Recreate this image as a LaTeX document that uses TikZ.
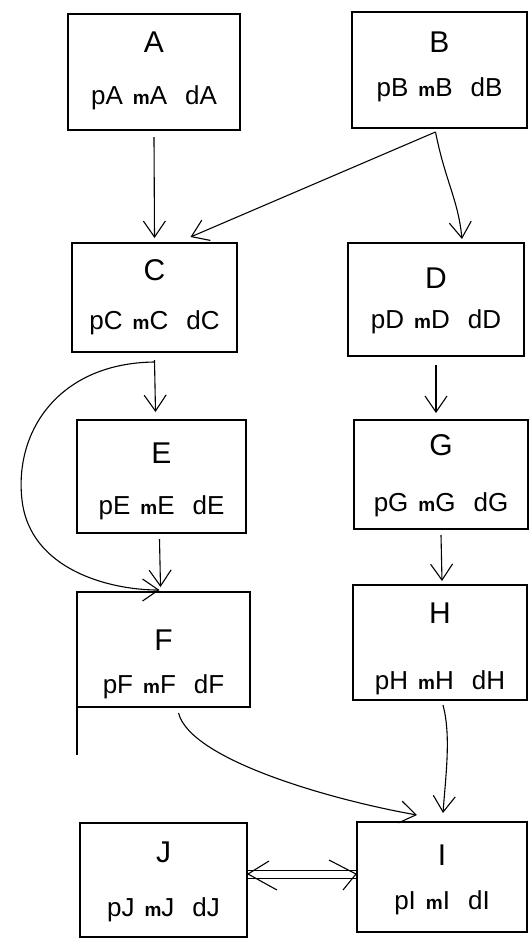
\documentclass[tikz,border=0pt]{standalone}
\usepackage{fontspec}
\setmainfont{Liberation Sans}
\usetikzlibrary{arrows.meta}
\tikzset{
  box/.style={draw, line width=1.2pt, inner sep=0pt, outer sep=0pt},
  ttl/.style={font=\fontsize{30}{34}\selectfont, inner sep=0pt},
  rowtext/.style={font=\fontsize{26}{30}\selectfont, inner sep=0pt},
  arr/.style={line width=1.1pt, -{Straight Barb[length=16pt,width=22pt]}},
  dbl/.style={double, double distance=7pt, line width=1pt, shorten <=1pt, shorten >=1pt},
  headline/.style={line width=1.1pt, line join=round},
}
% the small bold "m" between the handwritten letters
\newcommand{\mlet}{{\fontsize{19}{21}\selectfont\bfseries m}}
% #1 name, #2 x1, #3 y1, #4 x2, #5 y2, #6 title y, #7 row y, #8 letter
\newcommand{\drawcell}[8]{%
  \node[box, minimum width={#4pt-#2pt}, minimum height={#5pt-#3pt}]
    (#1) at ({(#2+#4)/2},{-(#3+#5)/2}) {};
  \node[ttl] (#1t) at ({(#2+#4)/2},-#6) {#8};
  \node[rowtext] (#1r) at ({(#2+#4)/2},-#7) {p#8\hspace{10pt}\mlet#8\hspace{18pt}d#8};
}
\begin{document}
\begin{tikzpicture}[x=1pt,y=1pt]
  \useasboundingbox (0,0) rectangle (531,-940);
  \fill[white] (0,0) rectangle (531,-940);

  \drawcell{A}{68}{14}{240}{130}{42}{98}{A}
  \drawcell{B}{352}{12}{527}{128}{42}{90}{B}
  \drawcell{C}{72}{243}{237}{352}{270}{323}{C}
  \drawcell{D}{348}{243}{524}{356}{278}{322}{D}
  \drawcell{E}{77}{420}{246}{533}{453}{508}{E}
  \drawcell{G}{354}{420}{528}{529}{445}{505}{G}
  \drawcell{F}{77}{592}{250}{707}{640}{687}{F}
  \drawcell{H}{353}{585}{527}{700}{613}{683}{H}
  \drawcell{J}{80}{823}{247}{937}{852}{910}{J}
  \drawcell{I}{357}{822}{527}{932}{855}{903}{I}

  % left side of F runs on below the box
  \draw[line width=1.2pt] (F.south west) -- ++(0,-48);

  \draw[arr] ([yshift=-7pt]A.south) -- ([yshift=5pt]C.north);
  \draw[arr] ([xshift=-4pt,yshift=-4pt]B.south) -- ([xshift=36pt,yshift=6pt]C.north);
  \draw[arr] ([xshift=-4pt,yshift=-4pt]B.south)
     .. controls +(10,-50) and +(-4,40) .. ([xshift=26pt,yshift=4pt]D.north);
  \draw[arr] ([yshift=-8pt]C.south) -- ([xshift=-6pt,yshift=8pt]E.north);
  \draw[arr] ([yshift=-10pt]C.south)
     .. controls (60,-363) and (14,-430) .. (22,-500)
     .. controls (30,-570) and (110,-590) .. ([xshift=-4pt,yshift=2pt]F.north);
  \draw[arr] ([xshift=-2pt,yshift=-6pt]E.south) -- ([xshift=-3pt,yshift=5pt]F.north);
  \draw[arr] ([yshift=-9pt]D.south) -- ([xshift=-5pt,yshift=7pt]G.north);
  \draw[arr] ([yshift=-6pt]G.south) -- ([xshift=2pt,yshift=4pt]H.north);
  \draw[arr] ([xshift=15pt,yshift=-6pt]F.south)
     .. controls +(12,-47) and +(-85,15) .. ([xshift=-25pt,yshift=7pt]I.north);
  \draw[arr] ([xshift=3pt,yshift=-5pt]H.south)
     .. controls +(8,-30) and +(3,40) .. ([xshift=1pt,yshift=9pt]I.north);

  % two-way double connector between J and I: shaft, then open heads
  \draw[dbl] ([yshift=6pt]J.east) -- ([yshift=3pt]I.west);
  \draw[headline] ([xshift=22pt,yshift=19pt]J.east) -- ([xshift=1pt,yshift=6pt]J.east)
     -- ([xshift=30pt,yshift=-10pt]J.east);
  \draw[headline] ([xshift=-28pt,yshift=17pt]I.west) -- ([xshift=-1pt,yshift=3pt]I.west)
     -- ([xshift=-14pt,yshift=-13pt]I.west);
\end{tikzpicture}
\end{document}
